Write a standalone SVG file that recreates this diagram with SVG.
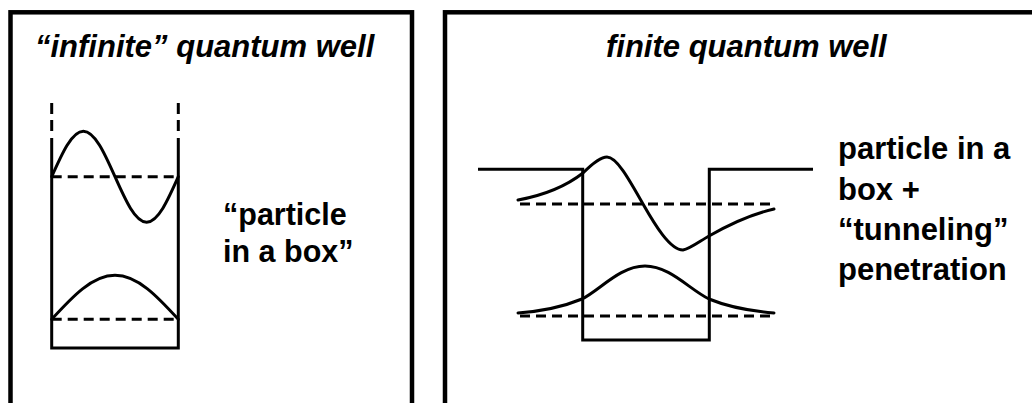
<svg xmlns="http://www.w3.org/2000/svg" width="1032" height="403" viewBox="0 0 1032 403">
<style>
.frame{fill:none;stroke:#000;stroke-width:4.5}
.well{fill:none;stroke:#000;stroke-width:3;stroke-linejoin:miter}
.wave{fill:none;stroke:#000;stroke-width:3;stroke-linecap:round}
.level{fill:none;stroke:#000;stroke-width:3;stroke-dasharray:10 6}
.title{font-family:"Liberation Sans",Arial,sans-serif;font-weight:bold;font-style:italic;font-size:31px;fill:#000}
.label{font-family:"Liberation Sans",Arial,sans-serif;font-weight:bold;font-size:31px;fill:#000}
</style>
<rect width="1032" height="403" fill="#fff"/>
<g id="panel-infinite">
  <rect class="frame" x="10.5" y="12.3" width="401.5" height="410"/>
  <text class="title" x="35" y="57">“infinite” quantum well</text>
  <g id="infinite-well">
    <line class="well" x1="51.7" y1="103" x2="51.7" y2="114"/>
    <line class="well" x1="51.7" y1="120" x2="51.7" y2="131"/>
    <line class="well" x1="178.3" y1="103" x2="178.3" y2="114"/>
    <line class="well" x1="178.3" y1="120" x2="178.3" y2="131"/>
    <path class="well" d="M51.7,138 V348 H178.3 V138"/>
    <line class="level" x1="51.7" y1="176.7" x2="178.3" y2="176.7"/>
    <line class="level" x1="51.7" y1="319.3" x2="178.3" y2="319.3"/>
    <path class="wave" d="M51.7,176.7 C62.02,153.39 71.95,131.2 83.35,131.2 C94.75,131.2 104.68,153.39 115,176.7 C125.32,200.01 135.25,222.2 146.65,222.2 C158.05,222.2 167.98,200.01 178.3,176.7"/>
    <path class="wave" d="M51.7,319.3 C72.35,296.76 92.2,275.3 115,275.3 C137.8,275.3 157.65,296.76 178.3,319.3"/>
  </g>
  <text class="label" font-size="30.5" style="font-size:30.5px" x="223" y="225">“particle</text>
  <text class="label" style="font-size:30.5px" x="223" y="261.7">in a box”</text>
</g>
<g id="panel-finite">
  <rect class="frame" x="445" y="12.3" width="620" height="410"/>
  <text class="title" x="606" y="57">finite quantum well</text>
  <g id="finite-well">
    <path class="well" d="M478,169.3 H582.7 V340 H709.3 V169.3 H813"/>
    <line class="level" x1="520" y1="204" x2="772" y2="204"/>
    <line class="level" x1="520" y1="316" x2="772" y2="316"/>
    <path class="wave" d="M518,200 C540,196 565,187 583,173 C592,164 600,157 607,157 C617,157 630,181 643,204 C655,225 670,250 683,250 C690,249 700,241 709,236 C730,224 752,214 774,209"/>
    <path class="wave" d="M518,313 C545,311 565,306 582,299 C600,290 620,266 645,266 C670,266 690,290 709,299 C726,306 750,311 774,313"/>
  </g>
  <text class="label" x="838" y="159">particle in a</text>
  <text class="label" x="838" y="200">box +</text>
  <text class="label" x="838" y="240">“tunneling”</text>
  <text class="label" x="838" y="280">penetration</text>
</g>
<g id="connectors"></g>
</svg>
